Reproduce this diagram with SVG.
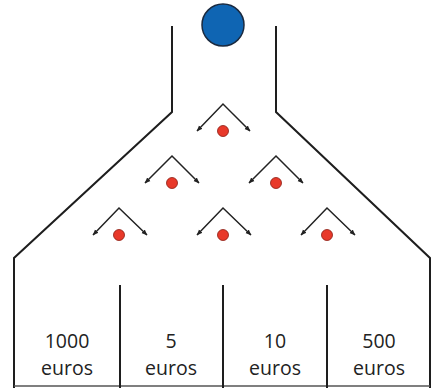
<svg xmlns="http://www.w3.org/2000/svg" width="436" height="388" viewBox="0 0 436 388">
<defs>
<style>
.wall{fill:none;stroke:#1e1e1e;stroke-width:2;stroke-linejoin:miter}
.chev{fill:none;stroke:#222;stroke-width:1.5;marker-start:url(#ah);marker-end:url(#ah)}
.peg{fill:#e8392a;stroke:#8a1a10;stroke-width:0.8}
.lbl{font-family:"Open Sans","Liberation Sans",sans-serif;font-size:19.5px;fill:#222;text-anchor:middle}
</style>
<marker id="ah" viewBox="0 0 10 10" refX="9" refY="5" markerWidth="6" markerHeight="6" orient="auto-start-reverse" markerUnits="userSpaceOnUse">
<path d="M0,1 L10,5 L0,9 z" fill="#222"/>
</marker>
</defs>
<rect width="436" height="388" fill="#fff"/>
<g id="board">
<path class="wall" d="M172,26 V112 L14,258 V388"/>
<path class="wall" d="M276,26 V112 L430,258 V388"/>
<line x1="14" y1="386" x2="430" y2="386" stroke="#555" stroke-width="1.5"/>
<line class="wall" x1="120" y1="285" x2="120" y2="388"/>
<line class="wall" x1="223" y1="285" x2="223" y2="388"/>
<line class="wall" x1="327" y1="285" x2="327" y2="388"/>
</g>
<g id="ball"><circle cx="223" cy="25" r="21" fill="#0f65b3" stroke="#1a2a40" stroke-width="1.5"/></g>
<g id="connectors">
<path class="chev" d="M197,131 L223,104 L250,131"/>
<path class="chev" d="M145,183 L172,156 L199,183"/>
<path class="chev" d="M249,183 L276,156 L303,183"/>
<path class="chev" d="M93,235 L119,208 L147,235"/>
<path class="chev" d="M197,235 L223,208 L251,235"/>
<path class="chev" d="M301,235 L327,208 L355,235"/>
</g>
<g id="peg1"><circle class="peg" cx="223" cy="131" r="5.5"/></g>
<g id="peg2"><circle class="peg" cx="172" cy="183" r="5.5"/></g>
<g id="peg3"><circle class="peg" cx="276" cy="183" r="5.5"/></g>
<g id="peg4"><circle class="peg" cx="119" cy="235" r="5.5"/></g>
<g id="peg5"><circle class="peg" cx="223" cy="235" r="5.5"/></g>
<g id="peg6"><circle class="peg" cx="327" cy="235" r="5.5"/></g>
<g id="bin1"><text class="lbl" x="67" y="348">1000</text><text class="lbl" x="67" y="375">euros</text></g>
<g id="bin2"><text class="lbl" x="171" y="348">5</text><text class="lbl" x="171" y="375">euros</text></g>
<g id="bin3"><text class="lbl" x="275" y="348">10</text><text class="lbl" x="275" y="375">euros</text></g>
<g id="bin4"><text class="lbl" x="379" y="348">500</text><text class="lbl" x="379" y="375">euros</text></g>
</svg>
